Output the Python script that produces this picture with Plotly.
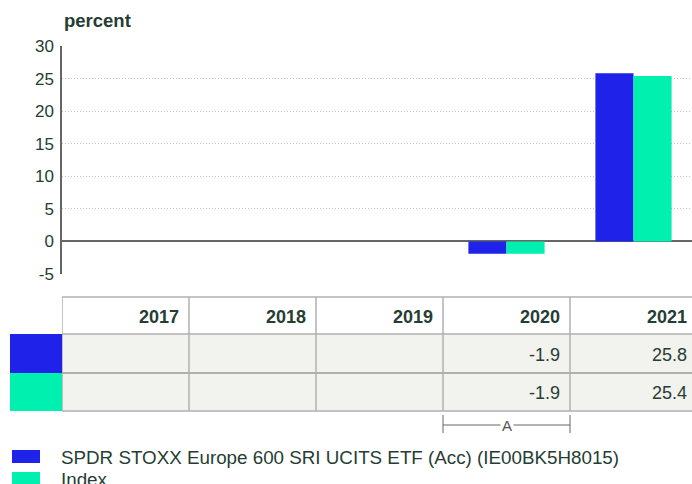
import plotly.graph_objects as go

# ---- data ----
years = ["2017", "2018", "2019", "2020", "2021"]
fund_name = "SPDR STOXX Europe 600 SRI UCITS ETF (Acc) (IE00BK5H8015)"
index_name = "Index"
fund_values = [None, None, None, -1.9, 25.8]
index_values = [None, None, None, -1.9, 25.4]
y_ticks = [-5, 0, 5, 10, 15, 20, 25, 30]
annotation_label = "A"
annotation_year = "2020"

# ---- style ----
W, H = 692, 484
PL, PR, PT, PB = 62, 0, 46, 210
COL_W = 127.0  # pixel width of one category column (last column runs past the edge)
FUND_COLOR = "#1f22e8"
INDEX_COLOR = "#00f0b0"
TEXT = "#263d33"
AXIS = "#666666"
BORDER = "#b0b0b0"
CELL_BG = "#f2f2ee"
FONT = "Liberation Sans, Arial, sans-serif"

plot_h = H - PT - PB
plot_w = W - PL - PR


def py(p):
    """pixel y (from top) -> paper y"""
    return (H - PB - p) / plot_h


def px(p):
    """pixel x -> paper x"""
    return (p - PL) / plot_w


n = len(years)
x_range = [-0.5, -0.5 + plot_w / COL_W]
cell_pad = 8

fig = go.Figure()
fig.add_trace(go.Bar(x=list(range(n)), y=fund_values, name=fund_name,
                     marker=dict(color=FUND_COLOR, line=dict(width=0))))
fig.add_trace(go.Bar(x=list(range(n)), y=index_values, name=index_name,
                     marker=dict(color=INDEX_COLOR, line=dict(width=0))))

shapes = []
annotations = []

# y-axis title
annotations.append(dict(text="<b>percent</b>", xref="paper", yref="paper",
                        x=px(62), y=py(20), xanchor="left", yanchor="middle",
                        showarrow=False, font=dict(size=18.5, color=TEXT)))

# ---- table ----
top, hdr_bot, r1_bot, r2_bot = 297, 334, 373, 411
for i in range(n):
    shapes.append(dict(type="rect", xref="x", yref="paper", x0=i - 0.5, x1=i + 0.5,
                       y0=py(hdr_bot), y1=py(r2_bot), fillcolor=CELL_BG,
                       line=dict(width=0), layer="above"))
shapes.append(dict(type="rect", xref="paper", yref="paper", x0=px(10), x1=px(62),
                   y0=py(hdr_bot), y1=py(r1_bot), fillcolor=FUND_COLOR,
                   line=dict(width=0), layer="above"))
shapes.append(dict(type="rect", xref="paper", yref="paper", x0=px(10), x1=px(62),
                   y0=py(r1_bot), y1=py(r2_bot), fillcolor=INDEX_COLOR,
                   line=dict(width=0), layer="above"))
for yy, w in [(top, 1.5), (hdr_bot, 1.5), (r1_bot, 2), (r2_bot, 1.5)]:
    shapes.append(dict(type="line", xref="paper", yref="paper", x0=0, x1=1,
                       y0=py(yy), y1=py(yy), line=dict(color=BORDER, width=w),
                       layer="above"))
for i in range(n):
    shapes.append(dict(type="line", xref="x", yref="paper", x0=i - 0.5, x1=i - 0.5,
                       y0=py(top), y1=py(r2_bot), line=dict(color=BORDER, width=1.5),
                       layer="above"))

# text anchored at the category centre, shifted to the right cell edge
shift = COL_W / 2 - cell_pad
for i, yr in enumerate(years):
    annotations.append(dict(text="<b>%s</b>" % yr, xref="x", yref="paper",
                            x=i, xshift=shift, y=py(317), xanchor="right",
                            yanchor="middle", showarrow=False,
                            font=dict(size=18, color=TEXT)))
    for vals, yc in [(fund_values, 355), (index_values, 393)]:
        v = vals[i]
        if v is not None:
            annotations.append(dict(text="%.1f" % v, xref="x", yref="paper",
                                    x=i, xshift=shift, y=py(yc), xanchor="right",
                                    yanchor="middle", showarrow=False,
                                    font=dict(size=18, color=TEXT)))

# bracket "A"
ai = years.index(annotation_year)
shapes.append(dict(type="line", xref="x", yref="paper", x0=ai - 0.5, x1=ai + 0.5,
                   y0=py(425), y1=py(425), line=dict(color=AXIS, width=1), layer="above"))
for xx in (ai - 0.5, ai + 0.5):
    shapes.append(dict(type="line", xref="x", yref="paper", x0=xx, x1=xx,
                       y0=py(415), y1=py(433), line=dict(color=AXIS, width=1),
                       layer="above"))
annotations.append(dict(text=annotation_label, xref="x", yref="paper", x=ai, y=py(425),
                        xanchor="center", yanchor="middle", showarrow=False,
                        bgcolor="white", borderpad=1,
                        font=dict(size=15, color="#555555")))

# ---- legend ----
for name, color, yc in [(fund_name, FUND_COLOR, 457), (index_name, INDEX_COLOR, 479)]:
    shapes.append(dict(type="rect", xref="paper", yref="paper", x0=px(12), x1=px(40),
                       y0=py(yc - 7), y1=py(yc + 6), fillcolor=color,
                       line=dict(width=0), layer="above"))
    annotations.append(dict(text=name, xref="paper", yref="paper", x=px(59), y=py(yc),
                            xanchor="left", yanchor="middle", showarrow=False,
                            font=dict(size=18.8, color=TEXT)))

fig.update_layout(
    width=W, height=H,
    margin=dict(l=PL, r=PR, t=PT, b=PB, autoexpand=False),
    paper_bgcolor="white", plot_bgcolor="white",
    barmode="group", bargap=0.4, bargroupgap=0,
    showlegend=False,
    font=dict(family=FONT, color=TEXT, size=17),
    shapes=shapes, annotations=annotations,
)
fig.update_xaxes(showticklabels=False, showgrid=False, zeroline=False,
                 showline=False, ticks="", range=x_range, fixedrange=True)
fig.update_yaxes(range=[-5, 30], tickvals=y_ticks, ticktext=[str(t) for t in y_ticks],
                 showgrid=True, gridcolor="#c4c4c4", griddash="1px,2px", gridwidth=1,
                 zeroline=True, zerolinecolor=AXIS, zerolinewidth=1.5,
                 showline=True, linecolor=AXIS, linewidth=1.5,
                 ticks="", ticklabelstandoff=3,
                 tickfont=dict(size=17, color=TEXT), fixedrange=True)

fig.write_html("out.html", config={"displayModeBar": False},
               post_script="document.body.style.margin='0';document.body.style.overflow='hidden';")
